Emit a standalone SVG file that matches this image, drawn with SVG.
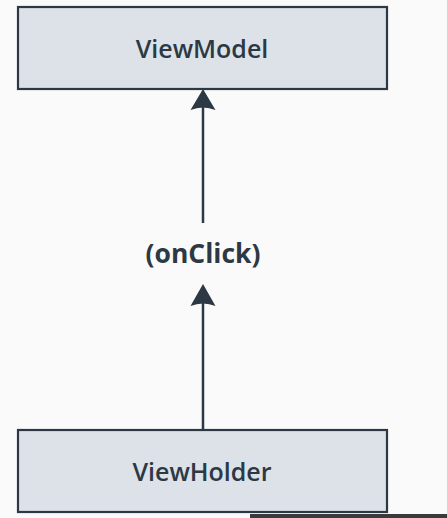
<svg xmlns="http://www.w3.org/2000/svg" width="447" height="518" viewBox="0 0 447 518">
<style>
.box{fill:#dce2e8;stroke:#2c3944;stroke-width:2.2}
.lbl{font-family:"Open Sans","Liberation Sans",sans-serif;font-size:25px;font-weight:600;fill:#2c3944;text-anchor:middle}
.conn{stroke:#2c3944;stroke-width:2.5;fill:none}
.head{fill:#2c3944}
</style>
<rect width="447" height="518" fill="#fafafa"/>
<g id="ViewModel">
<rect class="box" x="18" y="7" width="369" height="82"/>
<text class="lbl" x="202" y="58">ViewModel</text>
</g>
<g id="ViewHolder">
<rect class="box" x="18" y="430" width="369" height="82"/>
<text class="lbl" x="202" y="481">ViewHolder</text>
</g>
<g id="onClick">
<text class="lbl" x="203" y="263" style="font-weight:700;font-size:26.5px">(onClick)</text>
</g>
<g id="connectors">
<line class="conn" x1="203" y1="223" x2="203" y2="104"/>
<path class="head" d="M203 89 L215.5 110 Q203 105 190.5 110 Z"/>
<line class="conn" x1="203" y1="430" x2="203" y2="300"/>
<path class="head" d="M203 284 L215.5 306 Q203 301 190.5 306 Z"/>
</g>
<rect x="250" y="514" width="197" height="4" fill="#3a3a3a"/>
</svg>
